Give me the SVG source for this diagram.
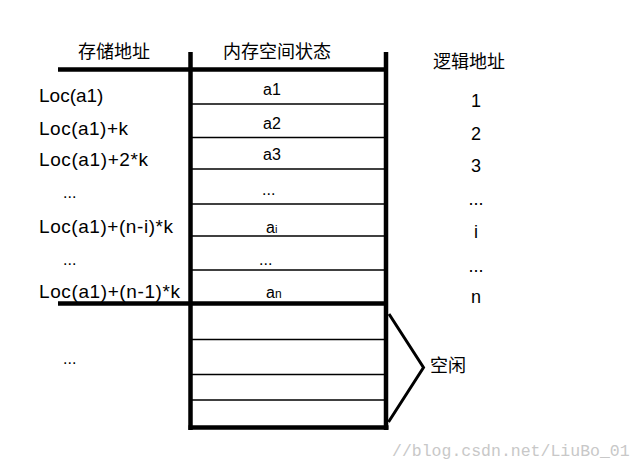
<svg xmlns="http://www.w3.org/2000/svg" width="643" height="470" viewBox="0 0 643 470">
  <style>
    .t { font-family: "Liberation Sans", "Noto Sans CJK SC", sans-serif; fill: #000; }
    .cjk { font-family: "Noto Sans CJK SC", "Liberation Sans", sans-serif; font-size: 18px; fill: #000; }
    .lab { font-size: 19px; }
    .cell { font-size: 16px; }
    .num { font-size: 18px; text-anchor: middle; }
    .thick { stroke: #000; stroke-width: 4.5; fill: none; }
    .thin { stroke: #000; stroke-width: 1.3; fill: none; }
    .wm { font-family: "Liberation Mono", monospace; font-size: 16.5px; fill: #c8c8c8; }
  </style>
  <rect width="643" height="470" fill="#fff"/>

  <g id="headers">
    <text class="cjk" x="78" y="58">存储地址</text>
    <text class="cjk" x="223" y="58">内存空间状态</text>
    <text class="cjk" x="433" y="68">逻辑地址</text>
  </g>

  <g id="memory-table">
    <line class="thin" x1="190" y1="104" x2="386" y2="104"/>
    <line class="thin" x1="190" y1="137.5" x2="386" y2="137.5"/>
    <line class="thin" x1="190" y1="169" x2="386" y2="169"/>
    <line class="thin" x1="190" y1="204" x2="386" y2="204"/>
    <line class="thin" x1="190" y1="236" x2="386" y2="236"/>
    <line class="thin" x1="190" y1="270" x2="386" y2="270"/>
    <line class="thin" x1="190" y1="339.5" x2="386" y2="339.5"/>
    <line class="thin" x1="190" y1="374.5" x2="386" y2="374.5"/>
    <line class="thin" x1="190" y1="400" x2="386" y2="400"/>
    <line class="thick" x1="58" y1="69.5" x2="388" y2="69.5"/>
    <line class="thick" x1="58" y1="303.5" x2="388" y2="303.5"/>
    <line class="thick" x1="190.5" y1="52" x2="190.5" y2="430"/>
    <line class="thick" x1="386" y1="52" x2="386" y2="430"/>
    <line class="thick" x1="188.5" y1="427.5" x2="388.5" y2="427.5"/>
  </g>

  <g id="cells">
    <text class="t cell" x="263" y="95">a1</text>
    <text class="t cell" x="263" y="129">a2</text>
    <text class="t cell" x="263" y="160">a3</text>
    <text class="t cell" x="262" y="195">...</text>
    <text class="t cell" x="266" y="232.5">a<tspan font-size="11">i</tspan></text>
    <text class="t cell" x="259" y="265">...</text>
    <text class="t cell" x="266" y="298">a<tspan font-size="12">n</tspan></text>
  </g>

  <g id="storage-addresses">
    <text class="t lab" x="39" y="101.5">Loc(a1)</text>
    <text class="t lab" x="39" y="134.5" textLength="89" lengthAdjust="spacing">Loc(a1)+k</text>
    <text class="t lab" x="39" y="166" textLength="109" lengthAdjust="spacing">Loc(a1)+2*k</text>
    <text class="t cell" x="63" y="198">...</text>
    <text class="t lab" x="39" y="232.5" textLength="134" lengthAdjust="spacing">Loc(a1)+(n-i)*k</text>
    <text class="t cell" x="63" y="265">...</text>
    <text class="t lab" x="39" y="298" textLength="141" lengthAdjust="spacing">Loc(a1)+(n-1)*k</text>
    <text class="t cell" x="63" y="364">...</text>
  </g>

  <g id="logical-addresses">
    <text class="t num" x="476" y="106.5">1</text>
    <text class="t num" x="476" y="140">2</text>
    <text class="t num" x="476" y="171.5">3</text>
    <text class="t num" x="476" y="205">...</text>
    <text class="t num" x="476" y="238">i</text>
    <text class="t num" x="476" y="271.5">...</text>
    <text class="t num" x="476" y="303">n</text>
  </g>

  <g id="connectors">
    <polyline points="389,314 423.5,367.5 388.5,422" fill="none" stroke="#000" stroke-width="3"/>
  </g>

  <g id="free-label">
    <text class="cjk" x="430" y="372">空闲</text>
  </g>

  <text class="wm" x="392" y="455.5">//blog.csdn.net/LiuBo_01</text>
</svg>
